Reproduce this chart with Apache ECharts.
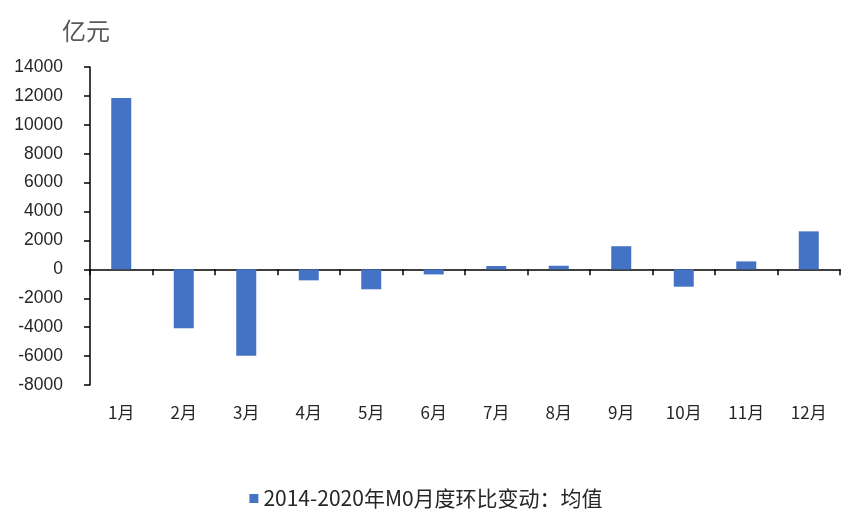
<!DOCTYPE html>
<html>
<head>
<meta charset="utf-8">
<script src="https://cdn.jsdelivr.net/npm/echarts@6/dist/echarts.min.js"></script>
<style>html,body{margin:0;padding:0;background:#fff}#c{width:852px;height:528px}</style>
</head>
<body>
<div id="c"></div>
<script>
const categories = ['1月','2月','3月','4月','5月','6月','7月','8月','9月','10月','11月','12月'];
const seriesName = '2014-2020年M0月度环比变动：均值';
const values = [11850, -4080, -5980, -760, -1380, -350, 230, 250, 1600, -1200, 550, 2630];
const unitLabel = '亿元';

const chart = echarts.init(document.getElementById('c'));
chart.setOption({
  animation: false,
  backgroundColor: '#fff',
  title: {
    text: unitLabel, left: 57, top: 14,
    textStyle: { fontFamily: 'Noto Sans CJK SC', fontSize: 24, fontWeight: 'normal', color: '#595959' }
  },
  legend: {
    bottom: 14, left: 'center', itemWidth: 9, itemHeight: 9, itemGap: 4,
    icon: 'rect',
    textStyle: { fontFamily: 'Noto Sans CJK SC', fontSize: 21, color: '#262626' },
    data: [seriesName]
  },
  grid: { left: 90, right: 12, top: 67, bottom: 143 },
  xAxis: [{
    type: 'category', data: categories,
    axisLine: { onZero: true, lineStyle: { color: '#000', width: 1.5 } },
    axisTick: { show: true, length: 6, lineStyle: { color: '#000', width: 1.5 } },
    axisLabel: { show: false }
  }, {
    type: 'category', data: categories, position: 'bottom',
    axisLine: { show: false, onZero: false }, axisTick: { show: false },
    axisLabel: { margin: 19, fontFamily: 'Noto Sans CJK SC', fontSize: 17, color: '#262626' }
  }],
  yAxis: {
    type: 'value', min: -8000, max: 14000, interval: 2000,
    axisLine: { show: true, lineStyle: { color: '#000', width: 1.5 } },
    axisTick: { show: true, length: 6, lineStyle: { color: '#000', width: 1.5 } },
    splitLine: { show: false },
    axisLabel: { margin: 27, fontFamily: 'Liberation Sans', fontSize: 17.5, color: '#262626', formatter: v => String(v) }
  },
  series: [{
    name: seriesName, type: 'bar', data: values, xAxisIndex: 0,
    barWidth: '32%',
    itemStyle: { color: '#4472C4' }
  }]
});
</script>
</body>
</html>
